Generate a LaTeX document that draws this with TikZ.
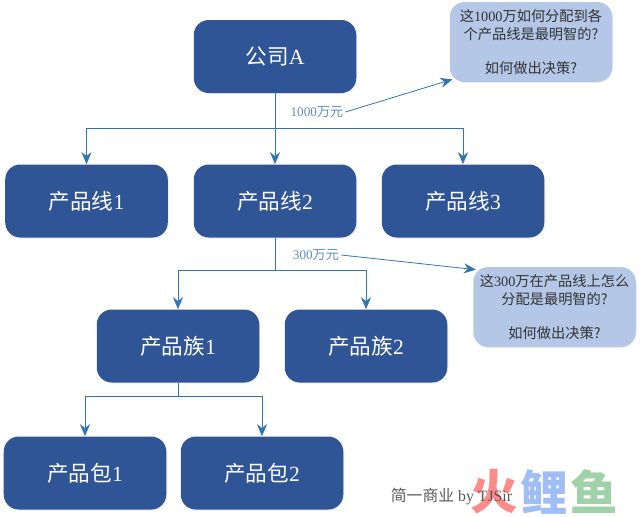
\documentclass[tikz,border=0pt]{standalone}
\usepackage{fontspec}
\setmainfont{Liberation Serif}
\newfontfamily\cjk{Noto Sans CJK SC}
\usetikzlibrary{arrows.meta,positioning,calc,shadows}
\definecolor{darkblue}{HTML}{2F5597}
\definecolor{paleblue}{HTML}{B4C7E7}
\definecolor{linkblue}{HTML}{2E75B6}
\definecolor{moneyblue}{HTML}{5F8FB4}
\tikzset{
  unitbox/.style={rectangle, rounded corners=0.3cm, fill=darkblue, text=white, minimum width=3.25cm, minimum height=1.46cm, font=\fontsize{12.3}{14}\selectfont, drop shadow={shadow xshift=0.02cm, shadow yshift=-0.02cm, opacity=0.12}},
  notebox/.style={rectangle, rounded corners=0.3cm, fill=paleblue, text=black!80, minimum width=3.25cm, minimum height=1.6cm, align=center, font=\fontsize{8.1}{10}\selectfont, drop shadow={shadow xshift=0.02cm, shadow yshift=-0.02cm, opacity=0.12}},
  money/.style={text=moneyblue, inner sep=1pt, font=\fontsize{7.5}{9}\selectfont},
  link/.style={draw=linkblue, line width=0.45pt},
  logo/.style={inner sep=0pt, font=\fontsize{27}{27}\selectfont\bfseries}
}

\begin{document}
\begin{tikzpicture}[>={Stealth[length=0.24cm, width=0.2cm]}]
      \useasboundingbox (0,0) rectangle (12.8,10.32);

      % Watermark
      \node[logo, text={rgb,255:red,255;green,138;blue,138}] (logofire) at (9.88,0.48) {\cjk 火};
      \node[logo, text={rgb,255:red,160;green,190;blue,245}] (logocarp) at (10.88,0.48) {\cjk 鲤};
      \node[logo, text={rgb,255:red,160;green,210;blue,168}] (logofish) at (11.88,0.48) {\cjk 鱼};
      \node[text=black!65, inner sep=0pt, font=\fontsize{9}{10}\selectfont] (credit) at (9.03,0.38) {{\cjk 简一商业} by TJSir};

      % Company
      \node[unitbox] (company) at (5.5,9.19) {{\cjk 公司}A};

      % Product lines
      \node[unitbox] (line1) at (1.73,6.3) {{\cjk 产品线}1};
      \node[unitbox] (line2) at (5.5,6.3) {{\cjk 产品线}2};
      \node[unitbox] (line3) at (9.26,6.3) {{\cjk 产品线}3};

      % Product families
      \node[unitbox] (family1) at (3.56,3.4) {{\cjk 产品族}1};
      \node[unitbox] (family2) at (7.32,3.4) {{\cjk 产品族}2};

      % Product packs
      \node[unitbox] (pack1) at (1.7,0.86) {{\cjk 产品包}1};
      \node[unitbox] (pack2) at (5.24,0.86) {{\cjk 产品包}2};

      % Questions
      \node[notebox] (note1) at (10.62,9.48) {{\cjk 这}1000{\cjk 万如何分配到各}\\{\cjk 个产品线是最明智的?}\\[9.5pt]{\cjk 如何做出决策?}};
      \node[notebox] (note2) at (11.09,4.18) {{\cjk 这}300{\cjk 万在产品线上怎么}\\{\cjk 分配是最明智的?}\\[9.5pt]{\cjk 如何做出决策?}};

      % Split points
      \coordinate (split1) at (5.5,7.76);
      \coordinate (split2) at (5.5,4.92);
      \coordinate (split3) at (3.56,2.4);

      % Company to lines
      \draw[->, link] (company) -- (line2);
      \draw[->, link] (split1) -| (line1);
      \draw[->, link] (split1) -| (line3);

      % Line to families
      \draw[link] (line2) -- (split2);
      \draw[->, link] (split2) -| (family1);
      \draw[->, link] (split2) -| (family2);

      % Family to packs
      \draw[link] (family1) -- (split3);
      \draw[->, link] (split3) -| (pack1);
      \draw[->, link] (split3) -| (pack2);

      % Money labels
      \node[money] (money1) at (6.34,8.08) {1000{\cjk 万元}};
      \node[money] (money2) at (6.32,5.22) {300{\cjk 万元}};
      \draw[->, link] (money1.east) -- ([shift={(0.06,0.06)}]note1.south west);
      \draw[->, link] (money2.east) -- ([shift={(0.06,-0.06)}]note2.north west);
\end{tikzpicture}
\end{document}
